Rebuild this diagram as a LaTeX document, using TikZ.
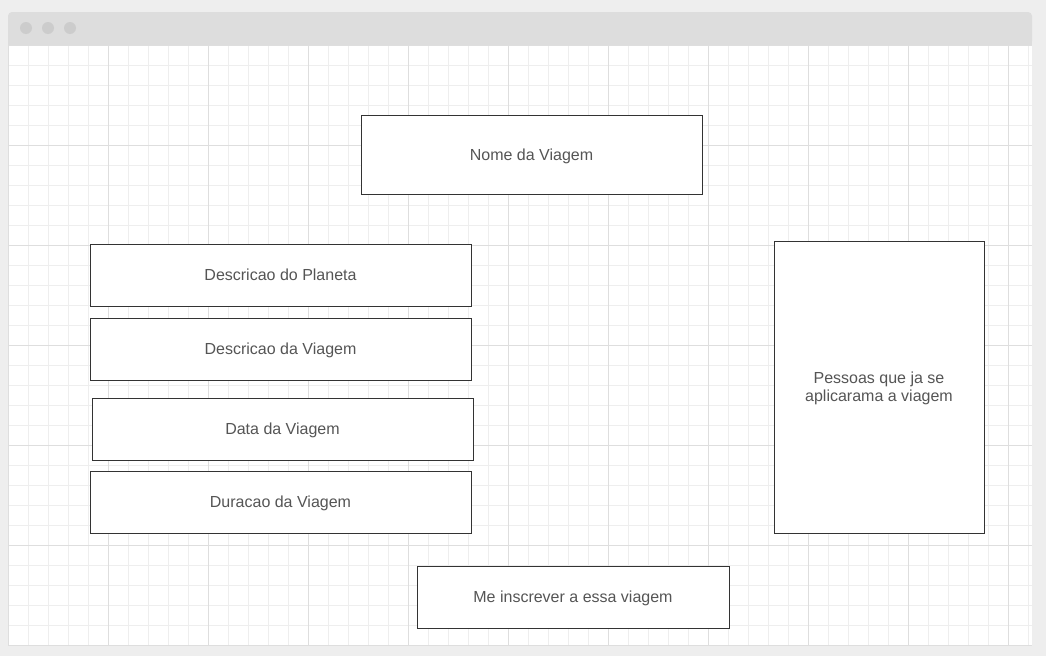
\documentclass[tikz,border=0pt]{standalone}
\usepackage{fontspec}
\setmainfont{Liberation Sans}
\definecolor{outerbg}{HTML}{EEEEEE}
\definecolor{barcol}{HTML}{DDDDDD}
\definecolor{dotcol}{HTML}{CCCCCC}
\definecolor{minorgrid}{HTML}{EEEEEE}
\definecolor{majorgrid}{HTML}{DEDEDE}
\definecolor{boxline}{HTML}{333333}
\definecolor{txt}{HTML}{555555}
\begin{document}
\begin{tikzpicture}[x=1pt,y=-1pt,
  uibox/.style={draw=boxline,line width=1pt,fill=white,text=txt,align=center,
    font=\fontsize{16}{18}\selectfont,text depth=-1.5pt},
  dot/.style={circle,fill=dotcol,inner sep=0pt,minimum size=12pt}]
\useasboundingbox (0,0) rectangle (1046,656);
\fill[outerbg] (0,0) rectangle (1046,656);
% window
\fill[white] (8,45) rectangle (1032,645);
\fill[barcol,rounded corners=4pt] (8,12) rectangle (1032,45);
\fill[barcol] (8,30) rectangle (1032,45);
% grid
\begin{scope}
\clip (8,45) rectangle (1032,645);
\foreach \x in {8,28,...,1032} \draw[minorgrid,line width=1pt] (\x,45) -- (\x,645);
\foreach \y in {45,65,...,645} \draw[minorgrid,line width=1pt] (8,\y) -- (1032,\y);
\foreach \x in {8,108,...,1032} \draw[majorgrid,line width=1pt] (\x,45) -- (\x,645);
\foreach \y in {45,145,...,645} \draw[majorgrid,line width=1pt] (8,\y) -- (1032,\y);
\end{scope}
% dots
\node[dot] (d1) at (26,28) {};
\node[dot] (d2) at (48,28) {};
\node[dot] (d3) at (70,28) {};
% boxes
\node[uibox,minimum width=341pt,minimum height=79pt] (nome) at (531.5,154.5) {Nome da Viagem};
\node[uibox,minimum width=381pt,minimum height=62pt] (planeta) at (280.5,275) {Descricao do Planeta};
\node[uibox,minimum width=381pt,minimum height=62pt] (desc) at (280.5,349) {Descricao da Viagem};
\node[uibox,minimum width=381pt,minimum height=62pt] (data) at (282.5,429) {Data da Viagem};
\node[uibox,minimum width=381pt,minimum height=62pt] (dur) at (280.5,502) {Duracao da Viagem};
\node[uibox,minimum width=210pt,minimum height=292pt,text depth=0pt] (pessoas) at (879,387) {Pessoas que ja se\\aplicarama a viagem};
\node[uibox,minimum width=312pt,minimum height=62pt] (inscrever) at (573,597) {Me inscrever a essa viagem};
\end{tikzpicture}
\end{document}
